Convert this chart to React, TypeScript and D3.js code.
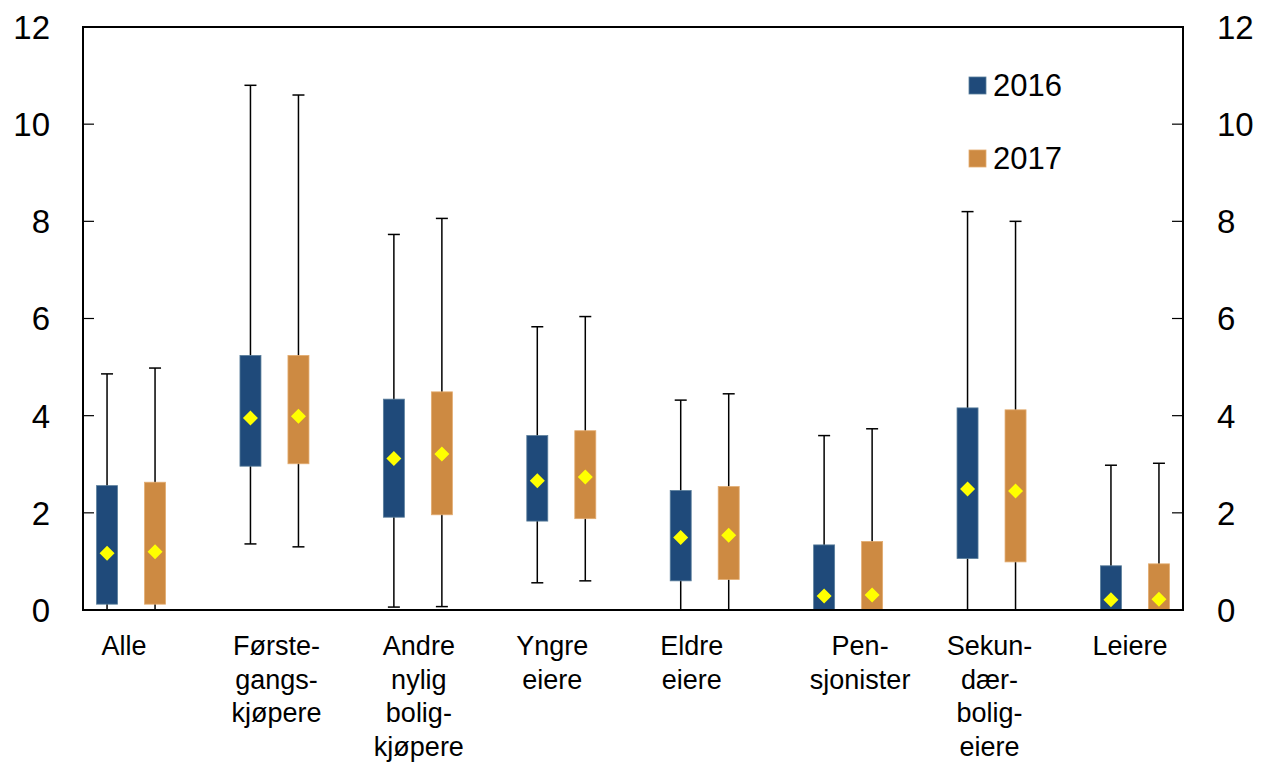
import { useMemo } from 'react';
import * as d3 from 'd3';

// Box plot: distribution per household group, 2016 vs 2017

const WIDTH = 1263;
const HEIGHT = 763;
const MARGIN = { top: 27, right: 80, bottom: 153, left: 83 };

const CATEGORIES = ['Alle', 'Førstegangskjøpere', 'Andre nylig boligkjøpere', 'Yngre eiere', 'Eldre eiere', 'Pensjonister', 'Sekundærboligeiere', 'Leiere'];
const CATEGORY_LINES = [
    ['Alle'],
    ['Første-', 'gangs-', 'kjøpere'],
    ['Andre', 'nylig', 'bolig-', 'kjøpere'],
    ['Yngre', 'eiere'],
    ['Eldre', 'eiere'],
    ['Pen-', 'sjonister'],
    ['Sekun-', 'dær-', 'bolig-', 'eiere'],
    ['Leiere'],
];
// the wrapped labels in the original sit a little off their category centre
const LABEL_SHIFT = [-7, 2, 1, -9, -13, 12, -2, -5];
const SERIES = ['2016', '2017'];
const COLORS = ['#1f4a7a', '#cd8a42'];
const EDGE_COLORS = ['#5b7f9c', '#e3ac70'];

// per category: whisker low, box low, box high, whisker high, mean
const LOW_2016 = [0, 1.36, 0.06, 0.56, 0, 0, 0, 0];
const Q1_2016 = [0.12, 2.96, 1.91, 1.83, 0.6, 0, 1.06, 0];
const Q3_2016 = [2.56, 5.24, 4.34, 3.59, 2.46, 1.34, 4.16, 0.91];
const HIGH_2016 = [4.86, 10.8, 7.73, 5.83, 4.32, 3.59, 8.2, 2.98];
const MEAN_2016 = [1.17, 3.95, 3.12, 2.66, 1.49, 0.29, 2.49, 0.21];

const LOW_2017 = [0, 1.3, 0.07, 0.6, 0, 0, 0, 0];
const Q1_2017 = [0.12, 3.01, 1.96, 1.88, 0.63, 0, 0.99, 0];
const Q3_2017 = [2.63, 5.24, 4.49, 3.69, 2.54, 1.41, 4.12, 0.95];
const HIGH_2017 = [4.98, 10.6, 8.06, 6.04, 4.45, 3.73, 8.0, 3.02];
const MEAN_2017 = [1.2, 3.99, 3.21, 2.74, 1.54, 0.31, 2.45, 0.22];

const Y_TICKS = [0, 2, 4, 6, 8, 10, 12];

const FONT = 'Liberation Sans, Arial, sans-serif';

export default function App() {
    const boundsWidth = WIDTH - MARGIN.left - MARGIN.right;
    const boundsHeight = HEIGHT - MARGIN.top - MARGIN.bottom;

    const xScale = useMemo(() => d3.scalePoint<string>().domain(CATEGORIES).range([0, boundsWidth]).padding(0.335), [boundsWidth]);
    const yScale = useMemo(() => d3.scaleLinear().domain([0, 12]).range([boundsHeight, 0]), [boundsHeight]);

    const seriesData = [
        { low: LOW_2016, q1: Q1_2016, q3: Q3_2016, high: HIGH_2016, mean: MEAN_2016 },
        { low: LOW_2017, q1: Q1_2017, q3: Q3_2017, high: HIGH_2017, mean: MEAN_2017 },
    ];

    const OFFSET = 24;
    const BOX_W = 21;
    const CAP_W = 12;
    const DIAMOND = 7.5;

    const boxes = CATEGORIES.flatMap((cat, i) =>
        seriesData.map((s, si) => {
            const cx = xScale(cat)! + (si === 0 ? -OFFSET : OFFSET);
            const yLow = yScale(s.low[i]);
            const yHigh = yScale(s.high[i]);
            const yQ1 = yScale(s.q1[i]);
            const yQ3 = yScale(s.q3[i]);
            const yMean = yScale(s.mean[i]);
            return (
                <g key={cat + si}>
                    <line x1={cx} x2={cx} y1={yHigh} y2={yLow} stroke="#000" strokeWidth={1.5} />
                    <line x1={cx - CAP_W / 2} x2={cx + CAP_W / 2} y1={yHigh} y2={yHigh} stroke="#000" strokeWidth={1.5} />
                    <line x1={cx - CAP_W / 2} x2={cx + CAP_W / 2} y1={yLow} y2={yLow} stroke="#000" strokeWidth={1.5} />
                    <rect x={cx - BOX_W / 2} y={yQ3} width={BOX_W} height={yQ1 - yQ3} fill={COLORS[si]} stroke={EDGE_COLORS[si]} strokeWidth={0.8} />
                    <path d={`M${cx},${yMean - DIAMOND} L${cx + DIAMOND},${yMean} L${cx},${yMean + DIAMOND} L${cx - DIAMOND},${yMean} Z`} fill="#ffff00" />
                </g>
            );
        })
    );

    return (
        <svg width={WIDTH} height={HEIGHT} style={{ position: 'absolute', left: 0, top: 0, background: '#fff' }} fontFamily={FONT}>
            <g transform={`translate(${MARGIN.left},${MARGIN.top})`}>
                {boxes}

                {/* frame */}
                <rect x={0} y={0} width={boundsWidth} height={boundsHeight} fill="none" stroke="#000" strokeWidth={2} />

                {/* y ticks, both sides */}
                {Y_TICKS.map((t) => (
                    <g key={t}>
                        <line x1={0} x2={11} y1={yScale(t)} y2={yScale(t)} stroke="#000" strokeWidth={1.2} />
                        <line x1={boundsWidth - 11} x2={boundsWidth} y1={yScale(t)} y2={yScale(t)} stroke="#000" strokeWidth={1.2} />
                        <text x={-33} y={yScale(t)} dy="0.36em" textAnchor="end" fontSize={33}>
                            {t}
                        </text>
                        <text x={boundsWidth + 34} y={yScale(t)} dy="0.36em" textAnchor="start" fontSize={33}>
                            {t}
                        </text>
                    </g>
                ))}

                {/* category labels */}
                {CATEGORIES.map((cat, i) => {
                    const lx = xScale(cat)! + LABEL_SHIFT[i];
                    return (
                        <text key={cat} x={lx} y={boundsHeight + 45} textAnchor="middle" fontSize={27}>
                            {CATEGORY_LINES[i].map((line, li) => (
                                <tspan key={li} x={lx} dy={li === 0 ? 0 : 33.5}>
                                    {line}
                                </tspan>
                            ))}
                        </text>
                    );
                })}

                {/* legend */}
                {SERIES.map((s, si) => (
                    <g key={s} transform={`translate(${886},${50 + si * 73})`}>
                        <rect x={0} y={0} width={17} height={17} fill={COLORS[si]} stroke={EDGE_COLORS[si]} strokeWidth={0.8} />
                        <text x={24} y={19} fontSize={31}>
                            {s}
                        </text>
                    </g>
                ))}
            </g>
        </svg>
    );
}
